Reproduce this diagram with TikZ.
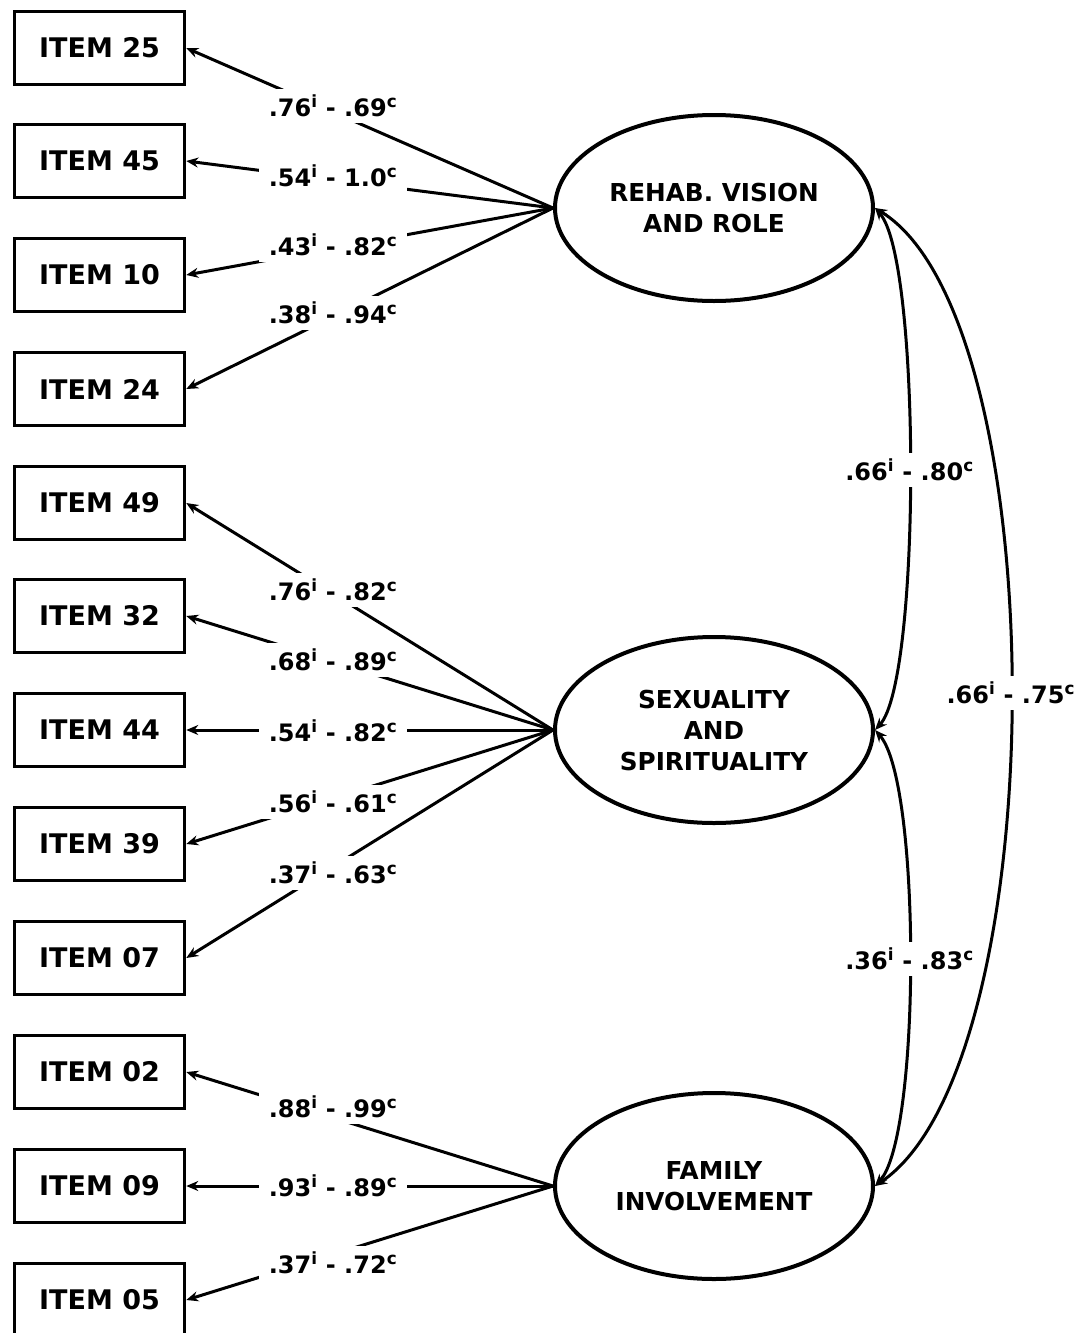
\documentclass[tikz,border=0pt]{standalone}
\usepackage{fontspec}
\setmainfont{DejaVu Sans}
\usetikzlibrary{arrows.meta,shapes.geometric}
\begin{document}
\begin{tikzpicture}[x=1pt,y=-1pt,
 item/.style={draw, line width=3.5pt, minimum width=170pt, minimum height=73pt, inner sep=0pt, font=\fontsize{27}{30}\selectfont\bfseries},
 factor/.style={draw, ellipse, line width=4pt, minimum width=318pt, minimum height=186pt, inner sep=0pt, align=center, font=\fontsize{24.7}{31}\selectfont\bfseries},
 load/.style={line width=3pt, -{Stealth[length=12pt,width=10pt]}},
 cov/.style={line width=3pt, {Stealth[length=12pt,width=10pt]}-{Stealth[length=12pt,width=10pt]}},
 lbl/.style={fill=white, inner xsep=10pt, inner ysep=6pt, font=\fontsize{24}{26}\selectfont\bfseries}]
\path[use as bounding box] (0,0) rectangle (1081,1333);
% items
\node[item] (i25) at (99.5,48) {ITEM 25};
\node[item] (i45) at (99.5,161) {ITEM 45};
\node[item] (i10) at (99.5,275) {ITEM 10};
\node[item] (i24) at (99.5,389) {ITEM 24};
\node[item] (i49) at (99.5,503) {ITEM 49};
\node[item] (i32) at (99.5,616) {ITEM 32};
\node[item] (i44) at (99.5,730) {ITEM 44};
\node[item] (i39) at (99.5,844) {ITEM 39};
\node[item] (i07) at (99.5,958) {ITEM 07};
\node[item] (i02) at (99.5,1072) {ITEM 02};
\node[item] (i09) at (99.5,1186) {ITEM 09};
\node[item] (i05) at (99.5,1300) {ITEM 05};
% factors
\node[factor] (f1) at (714,208) {REHAB. VISION\\AND ROLE};
\node[factor] (f2) at (714,730) {SEXUALITY\\AND\\SPIRITUALITY};
\node[factor] (f3) at (714,1186) {FAMILY\\INVOLVEMENT};
% loadings
\draw[load] (f1.west) -- (i25.east) node[lbl] (l1) at (333,106) {.76\textsuperscript{i} - .69\textsuperscript{c}};
\draw[load] (f1.west) -- (i45.east) node[lbl] (l2) at (333,176) {.54\textsuperscript{i} - 1.0\textsuperscript{c}};
\draw[load] (f1.west) -- (i10.east) node[lbl] (l3) at (333,245) {.43\textsuperscript{i} - .82\textsuperscript{c}};
\draw[load] (f1.west) -- (i24.east) node[lbl] (l4) at (333,313) {.38\textsuperscript{i} - .94\textsuperscript{c}};
\draw[load] (f2.west) -- (i49.east) node[lbl] (l5) at (333,590) {.76\textsuperscript{i} - .82\textsuperscript{c}};
\draw[load] (f2.west) -- (i32.east) node[lbl] (l6) at (333,660) {.68\textsuperscript{i} - .89\textsuperscript{c}};
\draw[load] (f2.west) -- (i44.east) node[lbl] (l7) at (333,731) {.54\textsuperscript{i} - .82\textsuperscript{c}};
\draw[load] (f2.west) -- (i39.east) node[lbl] (l8) at (333,802) {.56\textsuperscript{i} - .61\textsuperscript{c}};
\draw[load] (f2.west) -- (i07.east) node[lbl] (l9) at (333,873) {.37\textsuperscript{i} - .63\textsuperscript{c}};
\draw[load] (f3.west) -- (i02.east) node[lbl] (l10) at (333,1107) {.88\textsuperscript{i} - .99\textsuperscript{c}};
\draw[load] (f3.west) -- (i09.east) node[lbl] (l11) at (333,1186) {.93\textsuperscript{i} - .89\textsuperscript{c}};
\draw[load] (f3.west) -- (i05.east) node[lbl] (l12) at (333,1263) {.37\textsuperscript{i} - .72\textsuperscript{c}};
% covariances
\draw[cov] (f1.east) .. controls (921,260) and (921,680) .. (f2.east) node[lbl, pos=0.5] (c1) {.66\textsuperscript{i} - .80\textsuperscript{c}};
\draw[cov] (f2.east) .. controls (921,782) and (921,1136) .. (f3.east) node[lbl, pos=0.5] (c2) {.36\textsuperscript{i} - .83\textsuperscript{c}};
\draw[cov] (f1.east) .. controls (1056,320) and (1056,1064) .. (f3.east) node[lbl, pos=0.5] (c3) {.66\textsuperscript{i} - .75\textsuperscript{c}};
\end{tikzpicture}
\end{document}
